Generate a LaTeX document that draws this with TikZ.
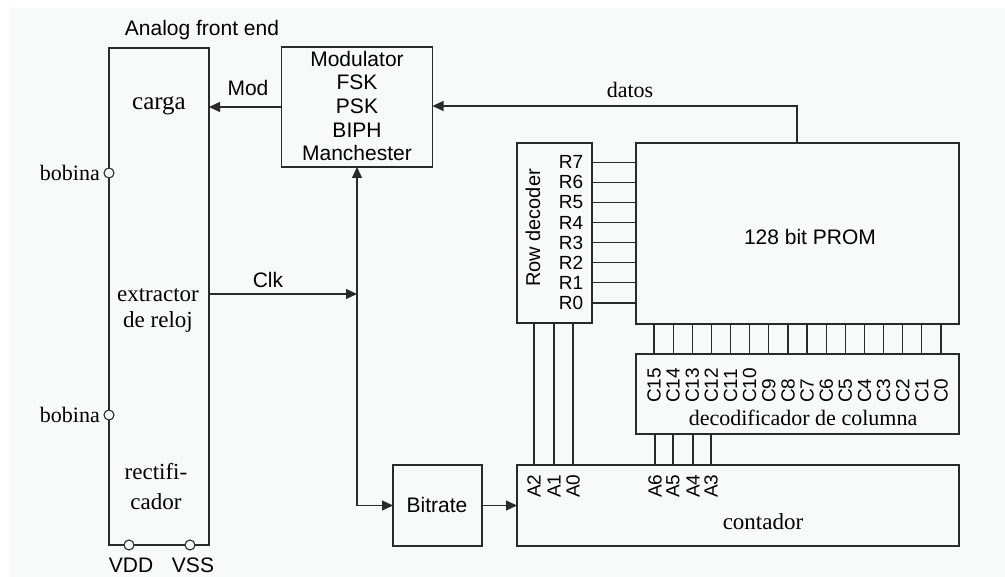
\documentclass[tikz,border=0pt]{standalone}
\usepackage{fontspec}
\setmainfont{Liberation Serif}
\setsansfont{Liberation Sans}
\usetikzlibrary{arrows.meta,calc}
\definecolor{bgc}{HTML}{F6FAF8}
\definecolor{ln}{HTML}{2A2A2A}
\tikzset{
  box/.style={draw=ln, line width=1.3pt, fill=bgc, inner sep=0pt, outer sep=0pt, rectangle},
  wire/.style={draw=ln, line width=1.2pt},
  arr/.style={wire, -{Triangle[length=11pt,width=10pt]}},
  sf/.style={font=\sffamily\fontsize{21}{24}\selectfont, inner sep=0pt},
  sfs/.style={font=\sffamily\fontsize{19}{20}\selectfont, inner sep=0pt},
  rm/.style={font=\rmfamily\fontsize{23}{26}\selectfont, inner sep=0pt},
  pin/.style={draw=ln, line width=1.1pt, fill=bgc, circle, inner sep=0pt, minimum size=10pt},
}
\begin{document}
\begin{tikzpicture}[x=1pt,y=-1pt]
\useasboundingbox (0,0) rectangle (1005,577);
\fill[white] (0,0) rectangle (1005,577);
\fill[bgc] (9,8) rectangle (1005,577);

% boxes
\node[box, minimum width=100pt, minimum height=497pt] (afe) at (159,296.5) {};
\node[box, minimum width=151pt, minimum height=120pt] (mod) at (357,107) {};
\node[box, minimum width=89pt, minimum height=81pt] (bit) at (437.5,505.5) {};
\node[box, minimum width=442pt, minimum height=81pt] (cont) at (738,505.5) {};
\node[box, minimum width=75pt, minimum height=180pt] (row) at (554.5,233) {};
\node[box, minimum width=323pt, minimum height=181pt] (prom) at (797.5,233.5) {};
\node[box, minimum width=323pt, minimum height=80pt] (col) at (797.5,394) {};

% texts
\node[sf] (afet) at (202,30) {Analog front end};
\node[rm, font=\rmfamily\fontsize{25}{26}\selectfont] (carga) at (159,106) {carga};
\node[rm, align=center] (ext) at (158,310) {extractor\\de reloj};
\node[rm, align=center, font=\rmfamily\fontsize{23}{30}\selectfont] (rect) at (156,487) {rectifi-\\cador};
\node[sf, align=center, font=\sffamily\fontsize{21}{23.7}\selectfont] (modt) at (357,106) {Modulator\\FSK\\PSK\\BIPH\\Manchester};
\node[sf] (bitt) at (437,505) {Bitrate};
\node[rm] (contt) at (763,522) {contador};
\node[sf] (promt) at (810,237) {128 bit PROM};
\node[rm, font=\rmfamily\fontsize{22}{24}\selectfont] (colt) at (803,418) {decodificador de columna};
\node[sf, font=\sffamily\fontsize{20}{22}\selectfont, rotate=90] (rowt) at (533,228) {Row decoder};

% pins
\node[pin] (b1) at (109,173) {};
\node[pin] (b2) at (109,415) {};
\node[pin] (vdd) at (129,545) {};
\node[pin] (vss) at (190,545) {};
\node[rm, font=\rmfamily\fontsize{22}{24}\selectfont, anchor=east] (b1t) at (100,173) {bobina};
\node[rm, font=\rmfamily\fontsize{22}{24}\selectfont, anchor=east] (b2t) at (100,415) {bobina};
\node[sf] (vddt) at (131,565) {VDD};
\node[sf] (vsst) at (193,565) {VSS};

% connectors
\draw[arr] (mod.west) -- (mod.west -| afe.east);
\node[sf] (modl) at (248,88) {Mod};
\coordinate (j) at (357,294);
\coordinate (bb) at (357,505.5);
\draw[arr] (afe.east |- j) -- (j);
\node[sf] (clkl) at (268,280) {Clk};
\draw[arr] (bb) -- (mod.south);
\draw[arr] (bb) -- (bit.west);
\draw[arr] (bit.east) -- (cont.west);
\coordinate (dt) at (797,106);
\draw[arr] (prom.north -| dt) -- (dt) -- (dt -| mod.east);
\node[rm, font=\rmfamily\fontsize{22}{24}\selectfont] (datos) at (630,90) {datos};

% row lines
\foreach \i in {0,...,7} {
  \pgfmathsetmacro{\yy}{303-\i*20.1}
  \draw[wire] (row.east |- 0,\yy) -- (prom.west |- 0,\yy);
  \node[sfs] (r\i) at (571,\yy) {R\i};
}
% column lines
\foreach \i in {0,...,15} {
  \pgfmathsetmacro{\xx}{941-\i*19.13}
  \draw[wire] (prom.south -| \xx,0) -- (col.north -| \xx,0);
  \node[sfs, rotate=90, anchor=west] (c\i) at (\xx,403) {C\i};
}
% address lines to row decoder
\foreach \xx/\n in {534/2,554/1,573/0} {
  \draw[wire] (cont.north -| \xx,0) -- (row.south -| \xx,0);
  \node[sfs, rotate=90, anchor=west] (a\n) at (\xx,498) {A\n};
}
% address lines to column decoder
\foreach \xx/\n in {655/6,673/5,693/4,711/3} {
  \draw[wire] (cont.north -| \xx,0) -- (col.south -| \xx,0);
  \node[sfs, rotate=90, anchor=west] (a\n) at (\xx,498) {A\n};
}
\end{tikzpicture}
\end{document}
